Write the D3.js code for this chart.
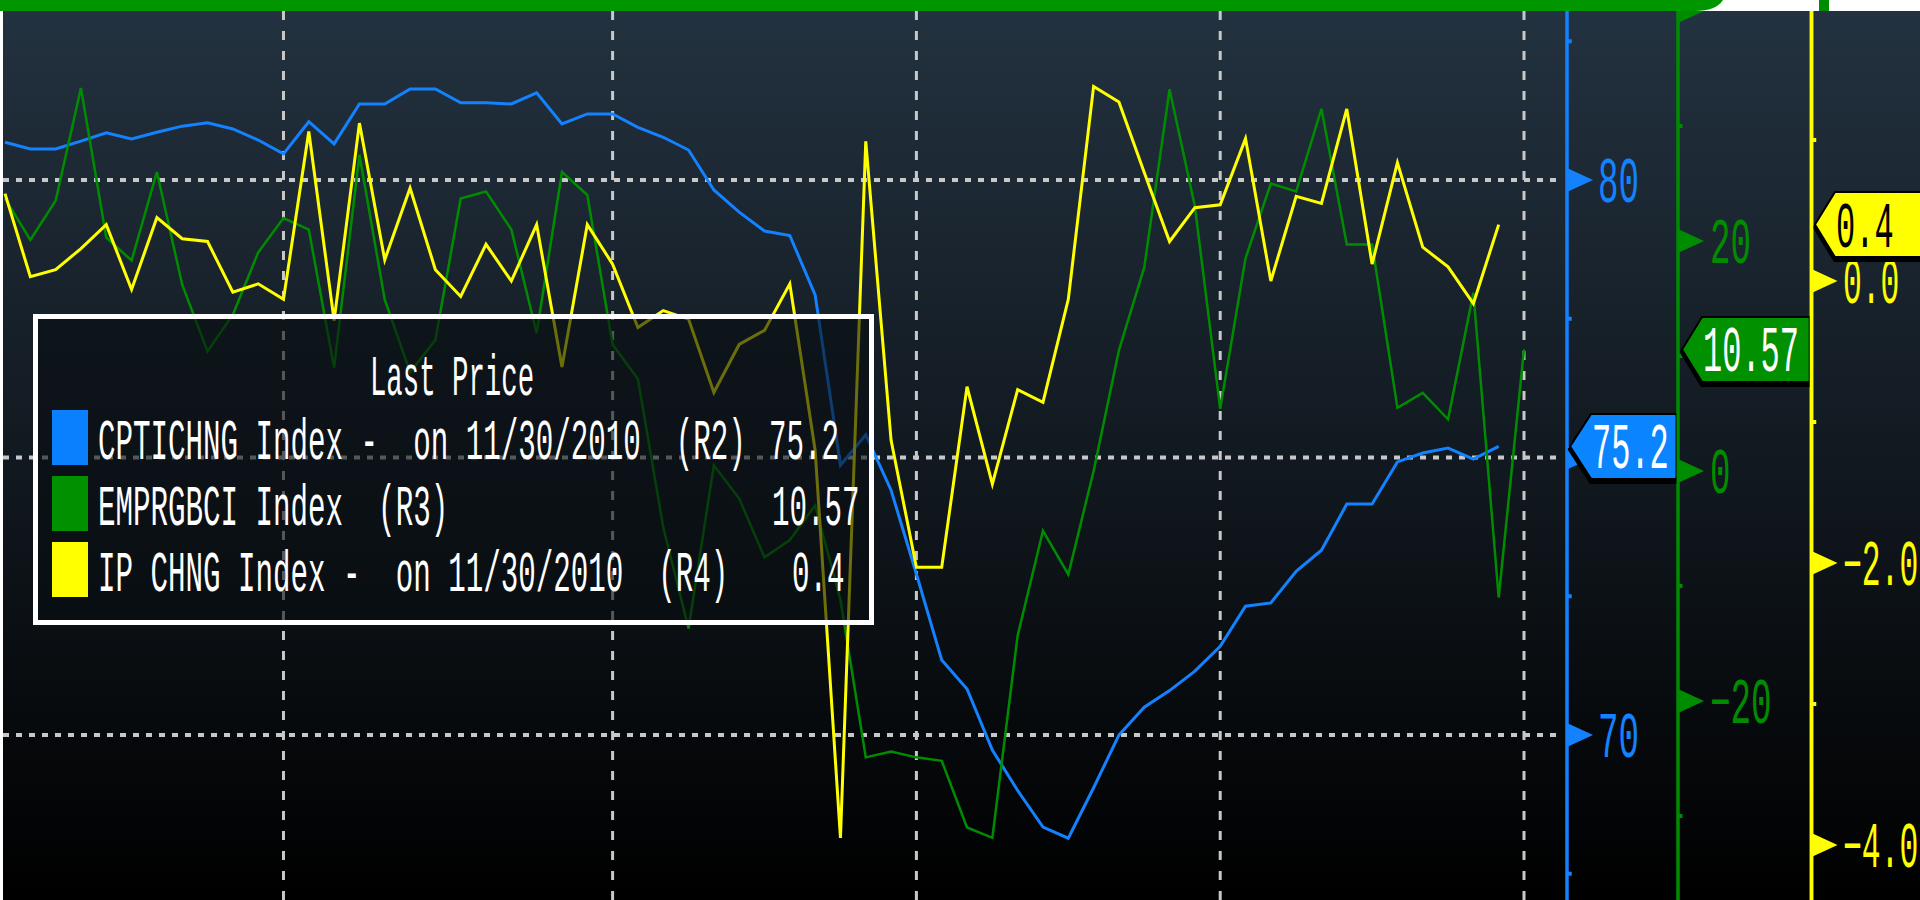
<!DOCTYPE html>
<html>
<head>
<meta charset="utf-8">
<script src="https://cdn.jsdelivr.net/npm/d3@7"></script>
<style>
html, body { margin: 0; padding: 0; background: #fff; overflow: hidden; }
svg { display: block; }
text { white-space: pre; }
</style>
</head>
<body>
<svg class="chart"></svg>
<script>
//DATA (monthly, first point Dec 2005)
const capUtil = [80.68, 80.56, 80.56, 80.70, 80.85, 80.74, 80.86, 80.97, 81.03, 80.92,
    80.72, 80.47, 81.05, 80.65, 81.37, 81.37, 81.64, 81.64, 81.39, 81.39,
    81.37, 81.57, 81.01, 81.19, 81.19, 80.95, 80.77, 80.54, 79.82, 79.42,
    79.08, 79.00, 77.93, 74.86, 75.41, 74.41, 72.90, 71.35, 70.83, 69.73,
    69.00, 68.34, 68.14, 69.05, 70.00, 70.50, 70.80, 71.15, 71.60, 72.32,
    72.38, 72.95, 73.33, 74.16, 74.16, 74.92, 75.08, 75.17, 74.97, 75.2];

const empire = [23.7, 20.1, 23.5, 33.3, 20.3, 18.3, 26.0, 16.2, 10.4, 13.6,
    19.0, 22.0, 21.0, 9.0, 27.5, 14.9, 8.6, 11.4, 23.7, 24.3,
    21.0, 12.0, 26.0, 24.0, 11.0, 8.0, -4.9, -13.7, 0.5, -2.4,
    -7.5, -6.0, -3.0, -11.2, -24.9, -24.4, -24.9, -25.2, -31.0, -31.9,
    -14.3, -5.2, -9.0, 0.0, 10.5, 17.7, 33.2, 23.0, 5.4, 18.5,
    25.0, 24.3, 31.5, 19.7, 19.7, 5.5, 6.8, 4.5, 15.5, -11.0, 10.57];

const ipChng = [0.62, 0.03, 0.08, 0.23, 0.40, -0.06, 0.45, 0.30, 0.28, -0.08,
    -0.02, -0.13, 1.06, -0.28, 1.12, 0.15, 0.66, 0.08, -0.11, 0.26,
    0.00, 0.40, -0.61, 0.40, 0.12, -0.33, -0.21, -0.27, -0.79, -0.45,
    -0.35, -0.02, -1.20, -3.95, 0.99, -1.13, -2.03, -2.03, -0.75, -1.44,
    -0.77, -0.86, -0.13, 1.38, 1.27, 0.77, 0.28, 0.52, 0.54, 1.01,
    0.00, 0.60, 0.55, 1.22, 0.12, 0.84, 0.24, 0.10, -0.16, 0.4];

const gridIdx = [11, 24, 36, 48, 60];
const blueMajor = [65, 70, 75, 80, 85];
const blueMinor = [67.5, 72.5, 77.5, 82.5];
const blueLabels = [70, 80];
const greenMajor = [-40, -20, 0, 20, 40];
const greenMinor = [-30, -10, 10, 30];
const greenLabels = [-20, 0, 20];
const yellowMajor = [-4, -2, 0, 2];
const yellowMinor = [-3, -1, 1];
const yellowLabels = [-4, -2, 0];

const legendRows = [
    {label: 'CPTICHNG Index -  on 11/30/2010  (R2)', value: '75.2', color: '#0a80ff'},
    {label: 'EMPRGBCI Index  (R3)', value: '10.57', color: '#009000'},
    {label: 'IP CHNG Index -  on 11/30/2010  (R4)', value: '0.4', color: '#ffff00'}
];

//INITIALIZING CANVAS
const size = {w: 1920, h: 900};
const topY = 11;
const axisX = {blue: 1567, green: 1678, yellow: 1811.5};
const colors = {blue: '#1482ff', green: '#008c00', yellow: '#ffff00', grid: '#c8c8c8'};
const mono = '"Liberation Mono", "DejaVu Sans Mono", monospace';

const svg = d3.select('svg.chart')
    .attr('width', size.w)
    .attr('height', size.h);

const defs = svg.append('defs');
const grad = defs.append('linearGradient')
    .attr('id', 'bg')
    .attr('x1', 0).attr('y1', 0).attr('x2', 0).attr('y2', 1);
grad.append('stop').attr('offset', '0%').attr('stop-color', '#233240');
grad.append('stop').attr('offset', '100%').attr('stop-color', '#000000');

defs.append('clipPath').attr('id', 'plotClip')
    .append('rect')
    .attr('x', 3).attr('y', topY)
    .attr('width', axisX.blue - 3).attr('height', size.h - topY);

//SCALES
const x = d3.scaleLinear().domain([0, 60]).range([5, 1524]);
const yBlue = d3.scaleLinear().domain([70, 80]).range([735, 180]);
const yGreen = d3.scaleLinear().domain([-20, 20]).range([701, 241]);
const yYellow = d3.scaleLinear().domain([-4, 0]).range([845, 281]);

//BACKGROUND
svg.append('rect')
    .attr('x', 3).attr('y', topY)
    .attr('width', size.w - 3).attr('height', size.h - topY)
    .attr('fill', 'url(#bg)');

//GRIDLINES
const grid = svg.append('g').attr('class', 'grid');
grid.selectAll('line.v')
    .data(gridIdx)
    .enter()
    .append('line')
    .attr('class', 'v')
    .attr('x1', d => x(d)).attr('x2', d => x(d))
    .attr('y1', topY).attr('y2', size.h)
    .attr('stroke', colors.grid)
    .attr('stroke-width', 3)
    .attr('stroke-dasharray', '9,11');

grid.selectAll('line.h')
    .data([70, 75, 80])
    .enter()
    .append('line')
    .attr('class', 'h')
    .attr('x1', 3).attr('x2', axisX.blue - 4)
    .attr('y1', d => yBlue(d)).attr('y2', d => yBlue(d))
    .attr('stroke', colors.grid)
    .attr('stroke-width', 4)
    .attr('stroke-dasharray', '6,7');

//LINES
const plot = svg.append('g').attr('clip-path', 'url(#plotClip)');

function drawLine(data, yScale, color, width){
    const line = d3.line()
        .x((d, i) => x(i))
        .y(d => yScale(d));
    plot.append('path')
        .datum(data)
        .attr('d', line)
        .attr('fill', 'none')
        .attr('stroke', color)
        .attr('stroke-width', width)
        .attr('stroke-linejoin', 'miter');
}

drawLine(capUtil, yBlue, colors.blue, 3);
drawLine(empire, yGreen, colors.green, 2.5);
drawLine(ipChng, yYellow, colors.yellow, 3);

//TEXT HELPER (condensed monospace, like the terminal font)
function label(g, px, py, str, fontSize, sx, fill, anchor){
    return g.append('g')
        .attr('transform', `translate(${px},${py}) scale(${sx},1)`)
        .append('text')
        .attr('font-family', mono)
        .attr('font-size', fontSize)
        .attr('fill', fill)
        .attr('text-anchor', anchor || 'start')
        .text(str);
}

//LEGEND
const legend = svg.append('g').attr('class', 'legend');
legend.append('rect')
    .attr('x', 35.5).attr('y', 316.5)
    .attr('width', 836).attr('height', 306)
    .attr('fill', 'rgba(9,13,17,0.6)')
    .attr('stroke', '#ffffff')
    .attr('stroke-width', 5);

label(legend, 452, 395, 'Last Price', 57, 0.48, '#ffffff', 'middle');

const rowBase = [459, 525, 591];
const valueX = [769, 772, 792];
legendRows.forEach((r, i) => {
    legend.append('rect')
        .attr('x', 52).attr('y', rowBase[i] - 49)
        .attr('width', 36).attr('height', 55)
        .attr('fill', r.color);
    label(legend, 98, rowBase[i], r.label, 57, 0.512, '#ffffff');
    label(legend, valueX[i], rowBase[i], r.value, 57, 0.512, '#ffffff');
});

//AXES
const axes = svg.append('g').attr('class', 'axes');
const arrow = 'M0,-12 L26,0 L0,12 Z';

function drawAxis(ax, color, width, scale, major, minor, labels, labelX, sx, fmt){
    axes.append('line')
        .attr('x1', ax).attr('x2', ax)
        .attr('y1', topY).attr('y2', size.h)
        .attr('stroke', color)
        .attr('stroke-width', width);

    axes.selectAll(null)
        .data(minor)
        .enter()
        .append('line')
        .attr('x1', ax).attr('x2', ax + width / 2 + 3)
        .attr('y1', d => scale(d)).attr('y2', d => scale(d))
        .attr('stroke', color)
        .attr('stroke-width', 4);

    axes.selectAll(null)
        .data(major.filter(d => scale(d) > topY - 12 && scale(d) < size.h + 12))
        .enter()
        .append('path')
        .attr('d', arrow)
        .attr('transform', d => `translate(${ax},${scale(d)})`)
        .attr('fill', color);

    labels.forEach(d => {
        label(axes, labelX, scale(d) + 22, fmt(d), 64, sx, color);
    });
}

drawAxis(axisX.blue, colors.blue, 3.5, yBlue, blueMajor, blueMinor, blueLabels, 1598, 0.534, d => d3.format('d')(d));
drawAxis(axisX.green, colors.green, 3, yGreen, greenMajor, greenMinor, greenLabels, 1710, 0.534, d => d3.format('d')(d));
drawAxis(axisX.yellow, colors.yellow, 3.5, yYellow, yellowMajor, yellowMinor, yellowLabels, 1843, 0.49, d => d3.format('.1f')(d));

//LAST VALUE TAGS
function tag(tipX, bodyX, rightX, cy, fill, textFill, str){
    const pts = [[tipX, cy], [bodyX, cy - 32.5], [rightX, cy - 32.5], [rightX, cy + 32.5], [bodyX, cy + 32.5]];
    const g = axes.append('g');
    g.append('polygon')
        .attr('points', pts.map(p => [p[0], p[1] + 3].join(',')).join(' '))
        .attr('fill', '#000')
        .attr('stroke', '#000')
        .attr('stroke-width', 4);
    g.append('polygon')
        .attr('points', pts.map(p => p.join(',')).join(' '))
        .attr('fill', fill)
        .attr('stroke', '#000')
        .attr('stroke-width', 2);
    label(g, bodyX + 1, cy + 22, str, 64, 0.5, textFill);
}

tag(1570, 1591, axisX.green - 1.5, yBlue(capUtil[capUtil.length - 1]), '#0a84ff', '#ffffff', '75.2');
tag(1682, 1702, axisX.yellow - 1.8, yGreen(empire[empire.length - 1]), '#009000', '#ffffff', '10.57');
tag(1815, 1835, 1925, yYellow(ipChng[ipChng.length - 1]), '#ffff00', '#000000', '0.4');

// redraw the axis lines over the tags
axes.append('line')
    .attr('x1', axisX.green).attr('x2', axisX.green)
    .attr('y1', topY).attr('y2', size.h)
    .attr('stroke', colors.green).attr('stroke-width', 3);
axes.append('line')
    .attr('x1', axisX.yellow).attr('x2', axisX.yellow)
    .attr('y1', topY).attr('y2', size.h)
    .attr('stroke', colors.yellow).attr('stroke-width', 3.5);

//TOP BAR AND EDGES
svg.append('rect')
    .attr('x', 0).attr('y', 0)
    .attr('width', size.w).attr('height', topY)
    .attr('fill', '#ffffff');
svg.append('path')
    .attr('d', `M0,0 H1723 Q1716,11 1695,${topY} H0 Z`)
    .attr('fill', '#009600');
svg.append('rect')
    .attr('x', 1819).attr('y', 0)
    .attr('width', 10).attr('height', topY)
    .attr('fill', '#008c00');
svg.append('rect')
    .attr('x', 0).attr('y', topY)
    .attr('width', 3).attr('height', size.h - topY)
    .attr('fill', '#ffffff');
</script>
</body>
</html>
